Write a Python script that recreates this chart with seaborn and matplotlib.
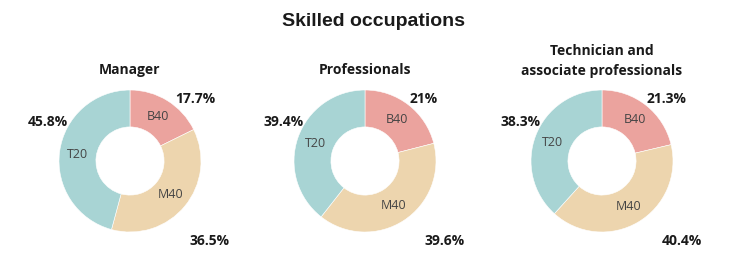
import matplotlib
matplotlib.use("Agg")
import matplotlib.pyplot as plt
import seaborn as sns
import numpy as np

sns.set_theme(style="white")
plt.rcParams['font.family'] = ['Open Sans', 'DejaVu Sans']

title = "Skilled occupations"
groups = ["Manager", "Professionals", "Technician and\nassociate professionals"]
categories = ["B40", "M40", "T20"]
values = [
    [17.7, 36.5, 45.8],
    [21.0, 39.6, 39.4],
    [21.3, 40.4, 38.3],
]
pct_labels = [
    ["17.7%", "36.5%", "45.8%"],
    ["21%", "39.6%", "39.4%"],
    ["21.3%", "40.4%", "38.3%"],
]
colors = ["#EBA39E", "#EDD5AE", "#A8D4D4"]

W, H = 747, 259
fig = plt.figure(figsize=(W / 100, H / 100), dpi=100)

centers_x = [130, 365, 602]
center_y = 161
R_PX = 71
half = 90
lim = half / R_PX
ring_w = 0.52
# anchor positions (in radius units) and alignment for percentage labels
pct_anchor = [(0.63, 0.87, "left"), (0.84, -1.12, "left"), (-0.87, 0.55, "right")]

fig.text(W / 2 / W, 1 - 22 / H, title, ha="center", va="center",
         fontsize=14, fontweight="bold", family=["Liberation Sans", "DejaVu Sans"],
         color="#1a1a1a")

for gi, (cx, vals) in enumerate(zip(centers_x, values)):
    ax = fig.add_axes([(cx - half) / W, (H - center_y - half) / H, 2 * half / W, 2 * half / H])
    wedges, _ = ax.pie(vals, colors=colors, startangle=90, counterclock=False,
                       radius=1, wedgeprops=dict(width=ring_w, edgecolor="white", linewidth=0.4))
    ax.set_xlim(-lim, lim)
    ax.set_ylim(-lim, lim)
    ax.set_aspect("equal")
    ax.axis("off")
    for w, cat in zip(wedges, categories):
        ang = np.deg2rad((w.theta1 + w.theta2) / 2)
        r = 1 - ring_w / 2
        ax.text(r * np.cos(ang), r * np.sin(ang), cat, ha="center", va="center",
                fontsize=9, color="#444444")
    for lab, (x, y, ha) in zip(pct_labels[gi], pct_anchor):
        ax.text(x, y, lab, ha=ha, va="center", fontsize=10, fontweight="bold", color="#1a1a1a")
    g = groups[gi]
    if "\n" in g:
        ty = 61
    else:
        ty = 70
    fig.text(cx / W, 1 - ty / H, g, ha="center", va="center", fontsize=10,
             fontweight="bold", color="#1a1a1a", linespacing=1.55)

fig.savefig("out.png", dpi=100)
